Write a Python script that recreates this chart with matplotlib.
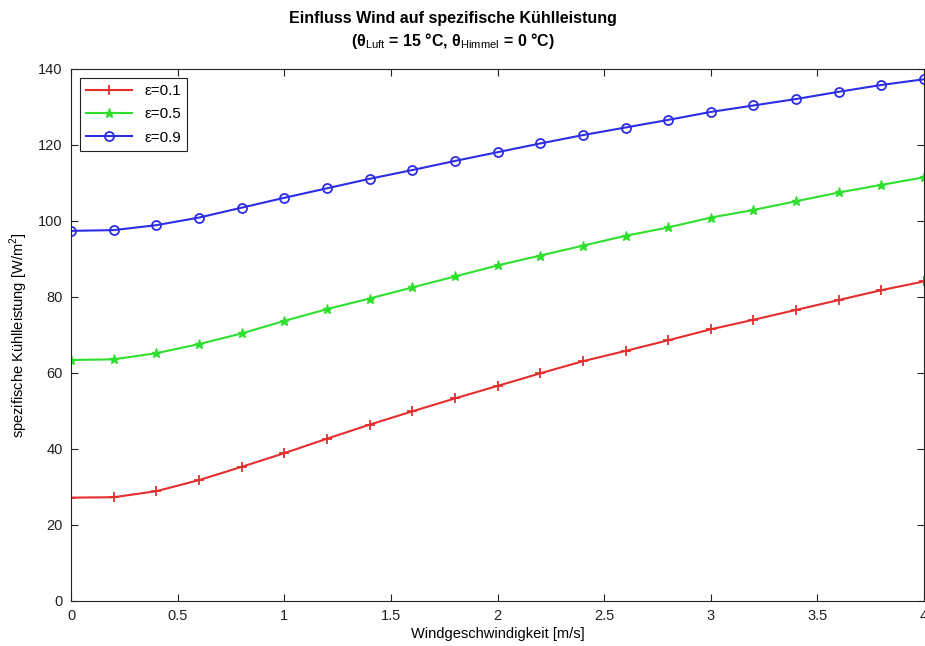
import matplotlib.pyplot as plt
import numpy as np

plt.rcParams['font.family'] = ['Liberation Sans', 'DejaVu Sans']
plt.rcParams['mathtext.fontset'] = 'custom'
plt.rcParams['mathtext.rm'] = 'Liberation Sans'
plt.rcParams['mathtext.bf'] = 'Liberation Sans:bold'

# Windgeschwindigkeit [m/s]
wind = [0.0, 0.2, 0.4, 0.6, 0.8, 1.0, 1.2, 1.4, 1.6, 1.8, 2.0,
        2.2, 2.4, 2.6, 2.8, 3.0, 3.2, 3.4, 3.6, 3.8, 4.0]

# spezifische Kuehlleistung [W/m2]
q_eps01 = [27.2, 27.3, 28.9, 31.8, 35.3, 38.9, 42.7, 46.4, 49.9, 53.3, 56.6,
           59.9, 63.1, 65.8, 68.6, 71.5, 74.0, 76.6, 79.2, 81.8, 84.1]
q_eps05 = [63.4, 63.6, 65.2, 67.6, 70.4, 73.7, 76.8, 79.6, 82.5, 85.4, 88.3,
           90.9, 93.5, 96.1, 98.3, 100.9, 102.9, 105.2, 107.5, 109.5, 111.5]
q_eps09 = [97.4, 97.6, 98.9, 100.9, 103.5, 106.1, 108.6, 111.1, 113.4, 115.8, 118.1,
           120.4, 122.6, 124.6, 126.6, 128.7, 130.4, 132.1, 134.0, 135.8, 137.3]

fig = plt.figure(figsize=(9.25, 6.46), dpi=100)
ax = fig.add_axes([0.0768, 0.0697, 0.9222, 0.8235])

ax.plot(wind, q_eps01, color='#e52d2d', marker='+', ms=7, mew=1.3, lw=1.5, label='ε=0.1')
ax.plot(wind, q_eps05, color='#2ee02e', marker='*', ms=6.5, lw=1.5, label='ε=0.5')
ax.plot(wind, q_eps09, color='#2d2de5', marker='o', ms=6.5, mfc='none', mew=1.3, lw=1.5, label='ε=0.9')

ax.set_xlim(0, 4)
ax.set_ylim(0, 140)
ax.set_xticks(np.arange(0, 4.01, 0.5))
ax.set_xticklabels(['0', '0.5', '1', '1.5', '2', '2.5', '3', '3.5', '4'])
ax.set_yticks(np.arange(0, 141, 20))
ax.tick_params(direction='in', top=True, right=True, labelsize=10.5,
               length=5, width=0.8, colors='#222222', pad=6)
for s in ax.spines.values():
    s.set_color('#222222')
    s.set_linewidth(0.8)

ax.set_xlabel('Windgeschwindigkeit [m/s]', fontsize=10.5, labelpad=3)
ax.set_ylabel('spezifische Kühlleistung [W/m$^2$]', fontsize=10.5, labelpad=6)
fig.text(0.49, 0.972, 'Einfluss Wind auf spezifische Kühlleistung',
         ha='center', va='center', fontsize=11.5, fontweight='bold')
fig.text(0.49, 0.936, '(θ$_{\\mathrm{Luft}}$ = 15 °C, θ$_{\\mathrm{Himmel}}$ = 0 °C)',
         ha='center', va='center', fontsize=11.5, fontweight='bold')

leg = ax.legend(loc='upper left', fontsize=11, fancybox=False, edgecolor='#222222',
                borderaxespad=0.6, handlelength=3, labelspacing=0.6, framealpha=1)
leg.get_frame().set_linewidth(0.8)

fig.savefig('out.png', dpi=100)
